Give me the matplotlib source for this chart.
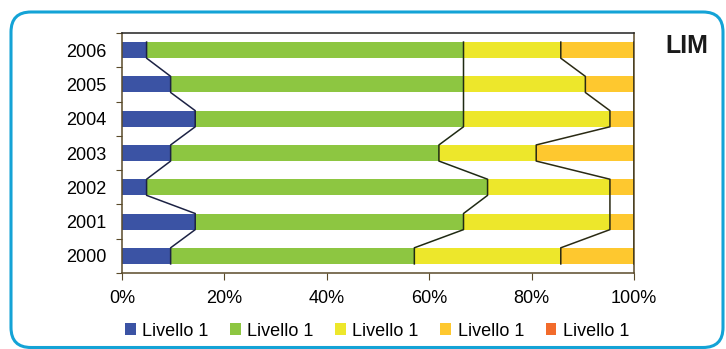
import numpy as np
import matplotlib
matplotlib.use("Agg")
import matplotlib.pyplot as plt
from matplotlib.patches import FancyBboxPatch, Patch

plt.rcParams['font.family'] = ['Liberation Sans', 'DejaVu Sans']

years = ['2000', '2001', '2002', '2003', '2004', '2005', '2006']
# share of each level per year (%)
livello_a = [9.5, 14.3, 4.8, 9.5, 14.3, 9.5, 4.8]
livello_b = [47.6, 52.4, 66.6, 52.4, 52.4, 57.2, 61.9]
livello_c = [28.6, 28.6, 23.9, 19.0, 28.6, 23.8, 19.0]
livello_d = [14.3, 4.7, 4.7, 19.1, 4.7, 9.5, 14.3]
livello_e = [0, 0, 0, 0, 0, 0, 0]
legend_labels = ['Livello 1'] * 5

colors = ['#3b53a4', '#8dc641', '#ede72b', '#fec82f', '#f26b2b']
line_colors = ['#1c2244', '#1f2a14', '#2a2a14', '#3a3214', '#3a3214']

fig = plt.figure(figsize=(7.26, 3.49), dpi=100)

# rounded cyan frame
frame = FancyBboxPatch((0.11, 0.015), 7.12, 3.355,
                       boxstyle="round,pad=0,rounding_size=0.2",
                       transform=fig.dpi_scale_trans, fill=False,
                       edgecolor='#14a3d6', linewidth=2.2)
fig.patches.append(frame)

ax = fig.add_axes([122 / 726, 1 - 273 / 349, 512 / 726, 240 / 349])

series = [livello_a, livello_b, livello_c, livello_d, livello_e]
y = np.arange(len(years))
h = 0.47
left = np.zeros(len(years))
ends = []
for vals, c in zip(series, colors):
    vals = np.array(vals, dtype=float)
    ax.barh(y, vals, left=left, height=h, color=c, edgecolor='none', zorder=2)
    left = left + vals
    ends.append(left.copy())

# series lines between the bars
for k, cum in enumerate(ends[:4]):
    xs, ys = [], []
    for i in range(len(years) - 1, -1, -1):
        xs += [cum[i], cum[i]]
        ys += [i + h / 2, i - h / 2]
    ax.plot(xs, ys, color=line_colors[k], linewidth=1.1, zorder=3)

ax.set_xlim(0, 100)
ax.set_ylim(-0.5, len(years) - 0.5)
ax.set_xticks(np.arange(0, 101, 20))
ax.set_xticklabels([f'{v}%' for v in range(0, 101, 20)])
ax.set_yticks(np.arange(-0.5, len(years), 1), minor=False)
ax.set_yticklabels([])
ax.set_yticks(y, minor=True)
ax.set_yticklabels(years, minor=True)
ax.tick_params(axis='y', which='minor', length=0, pad=11, labelsize=13)
ax.tick_params(axis='y', which='major', length=4, color='#5a4a2a', direction='out')
ax.tick_params(axis='x', length=5, color='#5a4a2a', labelsize=13, pad=7)

ax.spines['left'].set_color('#5a4a2a')
ax.spines['bottom'].set_color('#5a4a2a')
ax.spines['right'].set_color('#5a4a2a')
ax.spines['top'].set_color('#222222')
for s in ax.spines.values():
    s.set_linewidth(1.1)

fig.text(687 / 726, 1 - 46 / 349, 'LIM', fontsize=18, fontweight='bold',
         ha='center', va='center', color='#1a1a1a')

handles = [Patch(facecolor=c, edgecolor='none') for c in colors]
fig.legend(handles, legend_labels, loc='center', bbox_to_anchor=(377 / 726, 1 - 331 / 349),
           ncol=5, frameon=False, fontsize=13, handlelength=0.6, handleheight=0.6,
           handletextpad=0.35, columnspacing=1.2)

fig.savefig('out.png', dpi=100)
